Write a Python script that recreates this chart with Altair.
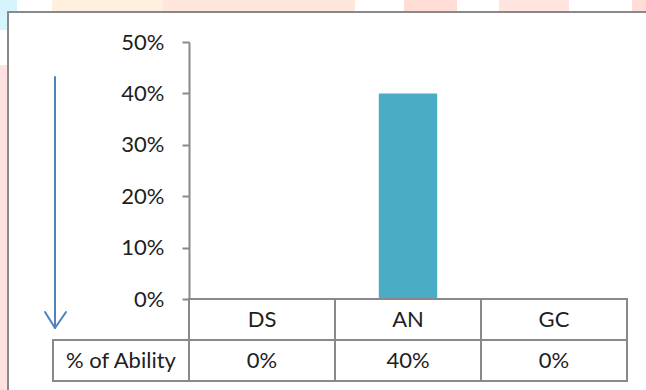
import altair as alt
import pandas as pd

# Chart values
categories = ["DS", "AN", "GC"]
ability = [0.0, 0.40, 0.0]
row_label = "% of Ability"
y_ticks = [0.0, 0.1, 0.2, 0.3, 0.4, 0.5]

df = pd.DataFrame({"cat": categories, "val": ability})

FONT = "Lato"
FS = 22
GRID = "#898989"
TXT = "#1e1e1e"
BAR = "#4bacc6"
ARROW = "#4f81bd"

W, H = 438, 257          # plot area
ROW1 = (H, H + 41)       # category row of the data table
ROW2 = (H + 41, H + 82)  # values row of the data table

one = alt.Data(values=[{}])

xenc = alt.X("cat:N", sort=categories,
             scale=alt.Scale(paddingInner=0, paddingOuter=0), axis=None)


def deco_rect(x, x2, y, y2, **mark):
    return alt.Chart(one).mark_rect(**mark).encode(
        x=alt.value(x), x2=alt.value(x2), y=alt.value(y), y2=alt.value(y2))


def deco_rule(x, y, x2, y2):
    return alt.Chart(one).mark_rule(color=ARROW, strokeWidth=2, strokeCap="round").encode(
        x=alt.value(x), y=alt.value(y), x2=alt.value(x2), y2=alt.value(y2))


# slide background around the chart frame
backdrop = [
    deco_rect(-189, -181, -42, -12, color="#d6f4fb"),
    deco_rect(-189, -172, -42, -30, color="#d6f4fb"),
    deco_rect(-189, -181, 23, 348, color="#ffe1e1"),
    deco_rect(-137, -26, -42, -30, color="#fff0e0"),
    deco_rect(-26, 166, -42, -30, color="#ffe6dc"),
    deco_rect(215, 268, -42, -30, color="#ffdcd6"),
    deco_rect(310, 380, -42, -30, color="#ffe4e0"),
    deco_rect(443, 457, -42, -30, color="#ffdcd6"),
]

# chart frame
frame = deco_rect(-181, 470, -30, 360, fill="white", stroke=GRID, strokeWidth=2)

bars = alt.Chart(df).mark_bar(color=BAR, width=alt.RelativeBandSize(0.4)).encode(
    x=xenc,
    y=alt.Y("val:Q", scale=alt.Scale(domain=[0, 0.5]),
            axis=alt.Axis(values=y_ticks, format=".0%", title=None, grid=False,
                          domainColor=GRID, domainWidth=2,
                          tickColor=GRID, tickWidth=2, tickSize=7,
                          labelFont=FONT, labelFontSize=FS, labelColor=TXT,
                          labelPadding=18, zindex=5)),
)

# data table under the axis
cell_style = dict(fillOpacity=0, stroke=GRID, strokeWidth=2)
row1_cells = alt.Chart(df).mark_rect(**cell_style).encode(
    x=xenc, y=alt.value(ROW1[0]), y2=alt.value(ROW1[1]))
row2_cells = alt.Chart(df).mark_rect(**cell_style).encode(
    x=xenc, y=alt.value(ROW2[0]), y2=alt.value(ROW2[1]))
head_cell = deco_rect(-136, 0, ROW2[0], ROW2[1], **cell_style)

text_style = dict(font=FONT, fontSize=FS, color=TXT, baseline="middle", align="center")
cat_text = alt.Chart(df).mark_text(**text_style).encode(
    x=xenc, y=alt.value(sum(ROW1) / 2), text="cat:N")
val_text = alt.Chart(df).mark_text(**text_style).encode(
    x=xenc, y=alt.value(sum(ROW2) / 2), text=alt.Text("val:Q", format=".0%"))
head_text = alt.Chart(one).mark_text(text=row_label, **text_style).encode(
    x=alt.value(-68), y=alt.value(sum(ROW2) / 2))

# downward arrow on the left
arrow = [
    deco_rule(-134, 35, -134, 285),
    deco_rule(-144, 270, -134, 286),
    deco_rule(-123, 270, -134, 286),
]

chart = alt.layer(
    *backdrop, frame, bars, row1_cells, row2_cells, head_cell,
    cat_text, val_text, head_text, *arrow,
).properties(
    width=W, height=H,
    autosize=alt.AutoSizeParams(type="none"),
    padding={"left": 189, "top": 42, "right": 19, "bottom": 91},
    background="white",
).configure_view(stroke=None)

chart.save("out.html", embed_options={"renderer": "svg", "actions": False})
